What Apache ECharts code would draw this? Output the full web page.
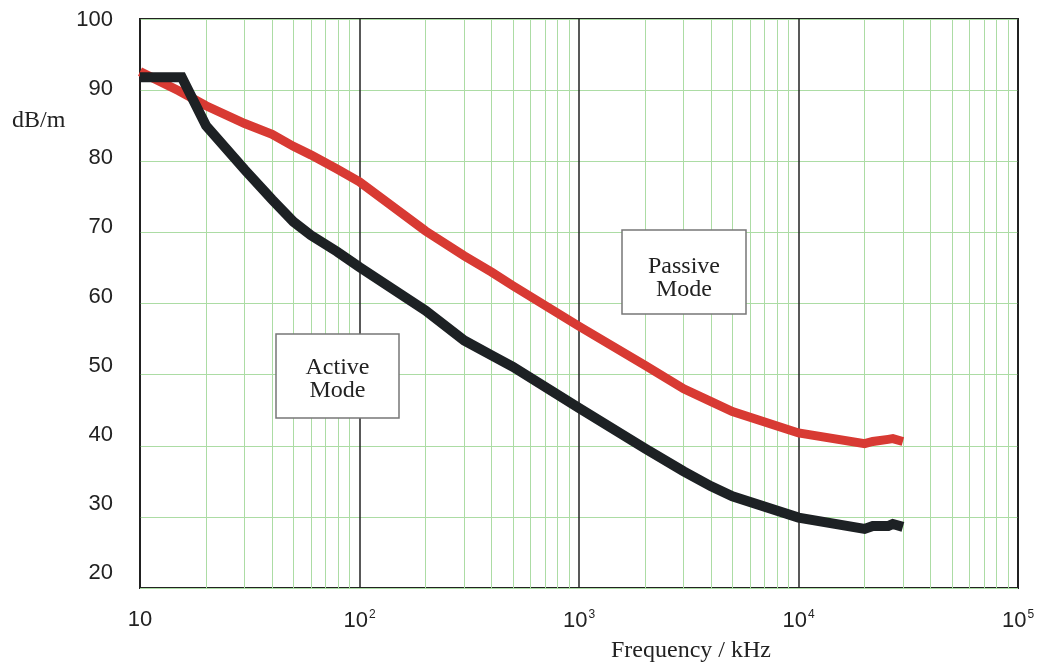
<!DOCTYPE html>
<html>
<head>
<meta charset="utf-8">
<script src="https://cdn.jsdelivr.net/npm/echarts@6/dist/echarts.min.js"></script>
<style>html,body{margin:0;padding:0;background:#fff}#c{width:1052px;height:668px}</style>
</head>
<body>
<div id="c"></div>
<script>
// Frequency (kHz) and attenuation (dB/m)
var passiveFreq = [10, 15, 20, 30, 40, 50, 60, 79, 100, 200, 300, 400, 500, 1000, 2000, 3000, 4000, 5000, 10000, 20000, 21800, 25600, 26900, 29900];
var passiveDb   = [92.6, 89.9, 87.8, 85.3, 83.8, 82.1, 80.9, 78.9, 77.1, 70.2, 66.7, 64.4, 62.5, 56.8, 51.3, 48.0, 46.2, 44.8, 41.8, 40.3, 40.6, 40.9, 41.0, 40.6];
var activeFreq  = [10, 15.5, 20, 30, 40, 50, 60, 79, 100, 200, 300, 400, 500, 1000, 2000, 3000, 4000, 5000, 10000, 20000, 21800, 25600, 26900, 29900];
var activeDb    = [91.8, 91.8, 85.0, 78.8, 74.6, 71.5, 69.6, 67.3, 65.1, 59.0, 54.8, 52.7, 51.1, 45.3, 39.6, 36.4, 34.3, 32.9, 29.9, 28.3, 28.7, 28.7, 29.0, 28.6];
var xMajorTicks = [10, 100, 1000, 10000, 100000];
var xMinorTicks = [20,30,40,50,60,70,80,90,200,300,400,500,600,700,800,900,2000,3000,4000,5000,6000,7000,8000,9000,20000,30000,40000,50000,60000,70000,80000,90000];
var yTickLabels = [20, 30, 40, 50, 60, 70, 80, 90, 100];

var sup = {'100':'2','1000':'3','10000':'4','100000':'5'};
var chart = echarts.init(document.getElementById('c'));
chart.setOption({
  animation: false,
  backgroundColor: '#fff',
  grid: {left: 140, top: 19, width: 878, height: 571, show: true, borderColor: '#222', borderWidth: 2, backgroundColor: 'transparent'},
  xAxis: [
    {type: 'log', logBase: 10, min: 10, max: 100000, z: 3,
     axisLine: {show: false}, axisTick: {show: false, customValues: xMajorTicks},
     splitLine: {show: true, lineStyle: {color: '#222', width: 1.5}},
     axisLabel: {customValues: xMajorTicks, margin: 21, color: '#222', fontFamily: 'Liberation Sans', fontSize: 22,
       formatter: function (v) { var k = String(Math.round(v)); return sup[k] ? '10{s|' + sup[k] + '}' : '10'; },
       rich: {s: {fontSize: 12, verticalAlign: 'top', padding: [0, 0, 12, 1], fontFamily: 'Liberation Sans', color: '#222'}}},
     name: 'Frequency / kHz', nameLocation: 'middle', nameGap: 51,
     nameTextStyle: {fontFamily: 'Liberation Serif', fontSize: 24, color: '#222', padding: [0, 0, 0, 224]}},
    {type: 'log', logBase: 10, min: 10, max: 100000, z: 1,
     axisLine: {show: false}, axisLabel: {show: false},
     axisTick: {show: false, customValues: xMinorTicks},
     splitLine: {show: true, lineStyle: {color: '#acdca4', width: 1}}}
  ],
  yAxis: [
    {type: 'value', min: 20, max: 100, interval: 10,
     axisLine: {show: false}, axisTick: {show: false}, axisLabel: {show: false},
     splitLine: {show: true, lineStyle: {color: '#acdca4', width: 1}}},
    {type: 'value', min: 17.84, max: 100.14, position: 'left',
     axisLine: {show: false}, axisTick: {show: false}, splitLine: {show: false},
     axisLabel: {customValues: yTickLabels, margin: 27, color: '#222', fontFamily: 'Liberation Sans', fontSize: 22}}
  ],
  graphic: [
    {type: 'text', left: 12, top: 109, style: {text: 'dB/m', fontFamily: 'Liberation Serif', fontSize: 24, fill: '#222'}},
    {type: 'rect', shape: {x: 276, y: 334, width: 123, height: 84}, style: {fill: '#fff', stroke: '#777', lineWidth: 1.5}, z: 10},
    {type: 'text', x: 337.5, y: 379, style: {text: 'Active\nMode', align: 'center', verticalAlign: 'middle', fontFamily: 'Liberation Serif', fontSize: 24, lineHeight: 23, fill: '#222'}, z: 11},
    {type: 'rect', shape: {x: 622, y: 230, width: 124, height: 84}, style: {fill: '#fff', stroke: '#777', lineWidth: 1.5}, z: 10},
    {type: 'text', x: 684, y: 278.5, style: {text: 'Passive\nMode', align: 'center', verticalAlign: 'middle', fontFamily: 'Liberation Serif', fontSize: 24, lineHeight: 23, fill: '#222'}, z: 11}
  ],
  series: [
    {type: 'line', xAxisIndex: 0, yAxisIndex: 0, showSymbol: false, symbol: 'none', z: 5,
     data: passiveFreq.map(function (f, i) { return [f, passiveDb[i]]; }),
     lineStyle: {color: '#d83a33', width: 9, cap: 'butt', join: 'miter'}},
    {type: 'line', xAxisIndex: 0, yAxisIndex: 0, showSymbol: false, symbol: 'none', z: 6,
     data: activeFreq.map(function (f, i) { return [f, activeDb[i]]; }),
     lineStyle: {color: '#1d2124', width: 10, cap: 'butt', join: 'miter'}}
  ]
});
</script>
</body>
</html>
